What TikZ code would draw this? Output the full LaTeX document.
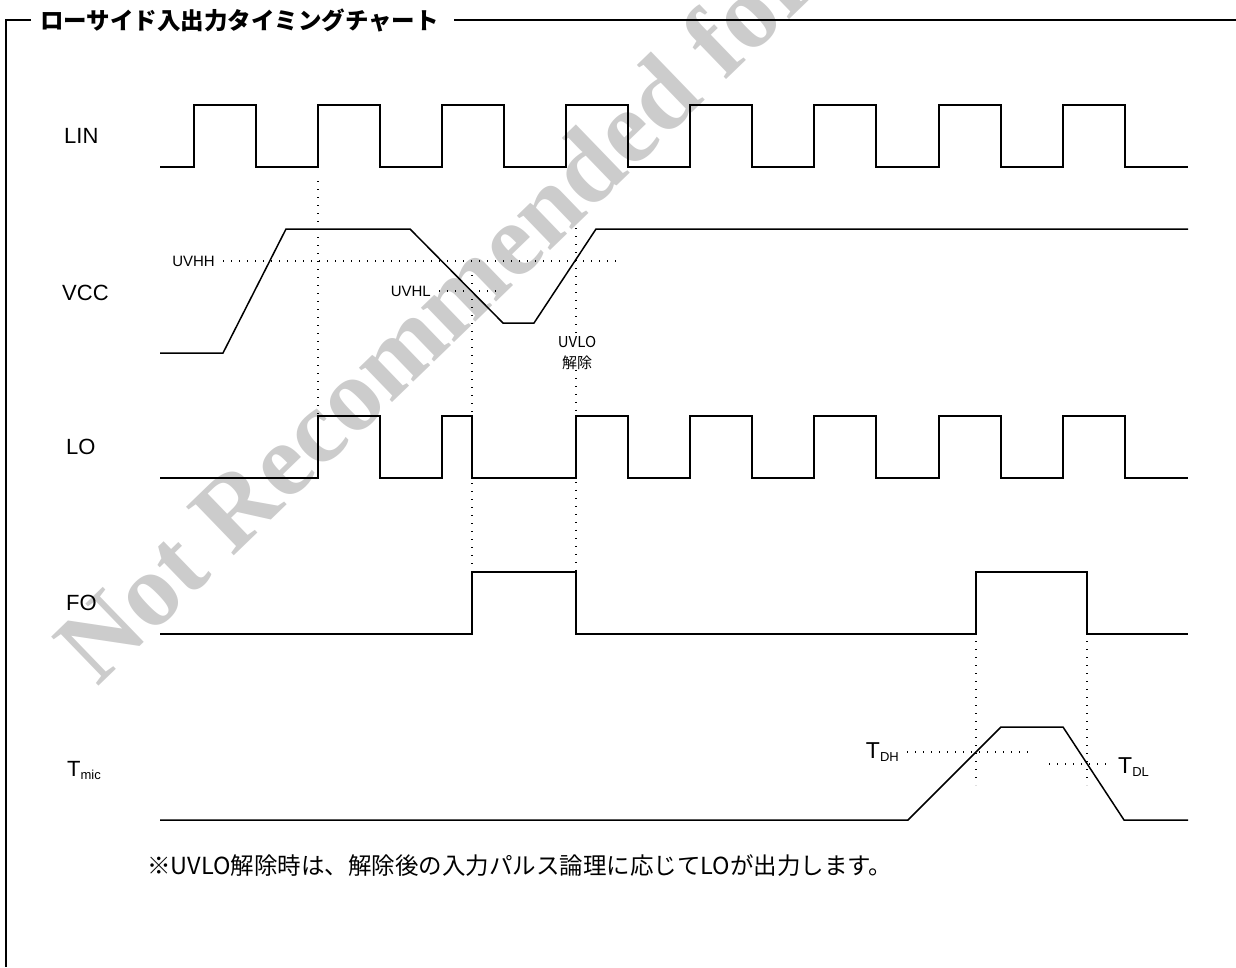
\documentclass[tikz,border=0pt]{standalone}
\usepackage{fontspec}
\setmainfont{Liberation Sans}
\newfontfamily\jpfont{Noto Sans CJK JP}
\newfontfamily\markfont{Liberation Serif}
\newcommand{\tsub}[1]{T\raisebox{-3pt}{\fontsize{13}{15}\selectfont #1}}
\begin{document}
\begin{tikzpicture}[x=1pt,y=-1pt,
    sig/.style={line width=1.5pt},
    guide/.style={line width=1.1pt,dash pattern=on 1.1pt off 6.9pt},
    sname/.style={anchor=west,inner sep=0pt,font=\fontsize{22}{24}\selectfont},
    level/.style={inner sep=0pt,font=\fontsize{15}{17}\selectfont}]
        \useasboundingbox (0,0) rectangle (1236,967);
        \node[rotate=44,anchor=base west,text=black!20,font=\markfont\bfseries\fontsize{104}{104}\selectfont] (mark) at (95,690) {Not Recommended for New Designs};

        \node[anchor=west,inner sep=0pt,font=\jpfont\bfseries\fontsize{23.5}{26}\selectfont] (title) at (40,20) {ローサイド入出力タイミングチャート};
        \draw[line width=1.2pt] (31,20) -- (6,20) -- (6,967);
        \draw[line width=1.2pt] ([xshift=15pt]title.east) -- (1236,20);

        \node[sname] (lin) at (64,136) {LIN};
        \node[sname] (vcc) at (62,293) {VCC};
        \node[sname] (lo) at (66,447) {LO};
        \node[sname] (fo) at (66,603) {FO};
        \node[sname] (tmic) at (67,770) {\tsub{mic}};

        \draw[sig] (160,167) -- (194,167) |- (256,105) |- (318,167) |- (380,105) |- (442,167) |- (504,105) |- (566,167) |- (628,105) |- (690,167) |- (752,105) |- (814,167) |- (876,105) |- (939,167) |- (1001,105) |- (1063,167) |- (1125,105) |- (1188,167);
        \draw[sig] (160,353) -- (223,353) -- (286,229) -- (410,229) -- (503,323) -- (534,323) -- (596,229) -- (1188,229);
        \draw[sig] (160,478) -- (318,478) |- (380,416) |- (442,478) |- (472,416) |- (576,478) |- (628,416) |- (690,478) |- (752,416) |- (814,478) |- (876,416) |- (939,478) |- (1001,416) |- (1063,478) |- (1125,416) |- (1188,478);
        \draw[sig] (160,634) -- (472,634) |- (576,572) |- (976,634) |- (1087,572) |- (1188,634);
        \draw[sig] (160,820) -- (908,820) -- (1001,727) -- (1063,727) -- (1124,820) -- (1188,820);

        \node[level,anchor=east] (uvhh) at (215,261) {UVHH};
        \draw[guide] ([xshift=8pt]uvhh.east) -- (622,261);
        \node[level,anchor=east] (uvhl) at (431,291) {UVHL};
        \draw[guide] ([xshift=8pt]uvhl.east) -- (500,291);
        \node[level,align=center,font=\jpfont\fontsize{15}{21}\selectfont] (uvlo) at (577,353) {UVLO\\解除};
        \draw[guide] (318,181) -- (318,416);
        \draw[guide] (472,275) -- (472,570);
        \draw[guide] (576,228) -- (uvlo.north -| 576,0);
        \draw[guide] (uvlo.south -| 576,0) -- (576,570);

        \node[level,anchor=east,font=\fontsize{23}{25}\selectfont] (tdh) at (899,752) {\tsub{DH}};
        \draw[guide] ([xshift=8pt]tdh.east) -- (1030,752);
        \node[level,anchor=west,font=\fontsize{23}{25}\selectfont] (tdl) at (1118,767) {\tsub{DL}};
        \draw[guide] (1049,764) -- (1108,764);
        \draw[guide] (976,641) -- (976,785);
        \draw[guide] (1087,641) -- (1087,785);

        \node[anchor=west,inner sep=0pt,font=\jpfont\fontsize{23.5}{26}\selectfont] (note) at (147,866) {※UVLO解除時は、解除後の入力パルス論理に応じてLOが出力します。};
    \end{tikzpicture}
\end{document}
